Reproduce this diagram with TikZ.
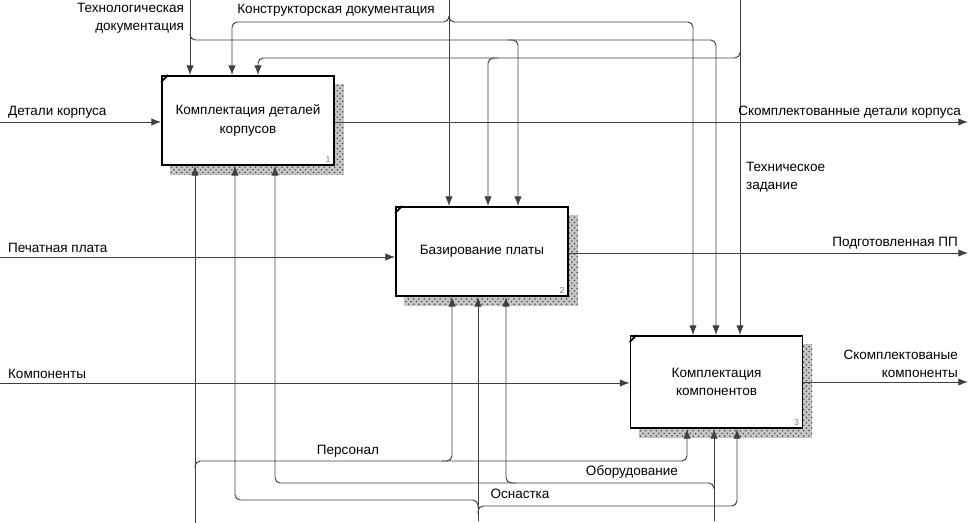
\documentclass[tikz,border=0pt]{standalone}
\usepackage{fontspec}
\setmainfont{Liberation Sans}
\usetikzlibrary{arrows.meta,calc,patterns,backgrounds,positioning}

\tikzset{
  func/.style={draw,line width=1.1pt,fill=white,minimum width=3.44cm,minimum height=1.78cm,
    align=center,inner sep=0pt,font=\fontsize{7.7}{10.5}\selectfont},
  flow/.style={draw=black!75,line width=0.55pt,rounded corners=3pt,-{Latex[length=5.5pt,width=4.2pt]}},
  lbl/.style={font=\fontsize{7.7}{10.5}\selectfont,inner sep=1pt},
}

\begin{document}
\begin{tikzpicture}[x=0.02cm,y=-0.02cm]
\useasboundingbox (0,0) rectangle (975,523);

% Functions
\node[func] (n1) at (248,120.5) {Комплектация деталей\\корпусов};
\node[func] (n2) at (482,251.5) {Базирование платы};
\node[func,minimum height=1.84cm] (n3) at (716.5,382) {Комплектация\\компонентов};

% shadows, corner marks, numbers
\begin{scope}[on background layer]
  \foreach \b in {n1,n2,n3}{
    \fill[black!22] ($(\b.south west)+(9,9)$) rectangle ($(\b.north east)+(9,9)$);
    \fill[pattern=crosshatch dots,pattern color=black!70] ($(\b.south west)+(9,9)$) rectangle ($(\b.north east)+(9,9)$);
  }
\end{scope}
\foreach \b/\k in {n1/1,n2/2,n3/3}{
  \draw[line width=1pt] ($(\b.north west)+(0,7)$) -- ($(\b.north west)+(7,0)$);
  \node[font=\fontsize{5}{6}\selectfont,text=black!50,anchor=south east,inner sep=0pt] (num\k) at ($(\b.south east)+(-4,-3)$) {\k};
}

% Ends of the arrows
\coordinate (tdoc) at (190,0);
\coordinate (kdoc) at (449,0);
\coordinate (tz)   at (740,0);
\coordinate (pers) at (195,523);
\coordinate (osn)  at (478,521);
\coordinate (obor) at (714,521);
\coordinate (in1) at (0,122);
\coordinate (in2) at (0,257);
\coordinate (in3) at (0,383);
\coordinate (out1) at (968,122);
\coordinate (out2) at (968,253);
\coordinate (out3) at (968,382);

% Inputs and outputs
\draw[flow] (in1) -- (n1.west |- in1);
\draw[flow] (in2) -- (n2.west |- in2);
\draw[flow] (in3) -- (n3.west |- in3);
\draw[flow] (n1.east |- out1) -- (out1);
\draw[flow] (n2.east |- out2) -- (out2);
\draw[flow] (n3.east |- out3) -- (out3);

% Technological documentation
\coordinate (td2) at (518,40);
\coordinate (td3) at (716,40);
\draw[flow] (tdoc) -- (n1.north -| tdoc);
\draw[flow] ($(tdoc)+(0,34)$) |- (td3) -- (n3.north -| td3);
\draw[flow] ($(td2)+(-10,0)$) -| (n2.north -| td2);

% Design documentation
\coordinate (kd1) at (232,22);
\coordinate (kd3) at (693,22);
\draw[flow] (kdoc) -- (n2.north -| kdoc);
\draw[flow] ($(kdoc)+(0,16)$) |- (kd1) -- (n1.north -| kd1);
\draw[flow] ($(kdoc)+(0,16)$) |- (kd3) -- (n3.north -| kd3);

% Technical task
\coordinate (tz1) at (258,58);
\coordinate (tz2) at (488,58);
\draw[flow] (tz) -- (n3.north -| tz);
\draw[flow] ($(tz)+(0,52)$) |- (tz1) -- (n1.north -| tz1);
\draw[flow] ($(tz2)+(10,0)$) -| (n2.north -| tz2);

% Personnel
\coordinate (pe2) at (452,461);
\coordinate (pe3) at (687,461);
\draw[flow] (pers) -- (n1.south -| pers);
\draw[flow] ($(pers)+(0,-55)$) |- (pe3) -- (n3.south -| pe3);
\draw[flow] ($(pe2)+(-10,0)$) -| (n2.south -| pe2);

% Equipment
\coordinate (ob1) at (275,483);
\coordinate (ob2) at (506,483);
\draw[flow] (obor) -- (n3.south -| obor);
\draw[flow] ($(obor)+(0,-32)$) |- (ob1) -- (n1.south -| ob1);
\draw[flow] ($(ob2)+(10,0)$) -| (n2.south -| ob2);

% Tooling
\coordinate (os1) at (235,500);
\coordinate (os3) at (737,506);
\draw[flow] (osn) -- (n2.south -| osn);
\draw[flow] ($(osn)+(0,-13)$) |- (os1) -- (n1.south -| os1);
\draw[flow] ($(osn)+(0,-7)$) |- (os3) -- (n3.south -| os3);

% Labels
\node[lbl,anchor=north east,align=right] (ltdoc) at (186,1) {Технологическая\\документация};
\node[lbl] (lkdoc) at (336,10) {Конструкторская документация};
\node[lbl,anchor=north west,align=left] (ltz) at (744,160) {Техническое\\задание};
\node[lbl,anchor=south west] (lin1) at (6,120) {Детали корпуса};
\node[lbl,anchor=south west] (lin2) at (6,255) {Печатная плата};
\node[lbl,anchor=south west] (lin3) at (6,381) {Компоненты};
\node[lbl,anchor=south east] (lout1) at (963,120) {Скомплектованные детали корпуса};
\node[lbl,anchor=south east] (lout2) at (960,251) {Подготовленная ПП};
\node[lbl,anchor=south east,align=right] (lout3) at (960,380) {Скомплектованые\\компоненты};
\node[lbl] (lpers) at (348,451) {Персонал};
\node[lbl] (lobor) at (632,472) {Оборудование};
\node[lbl] (losn) at (520,494) {Оснастка};

\end{tikzpicture}
\end{document}
